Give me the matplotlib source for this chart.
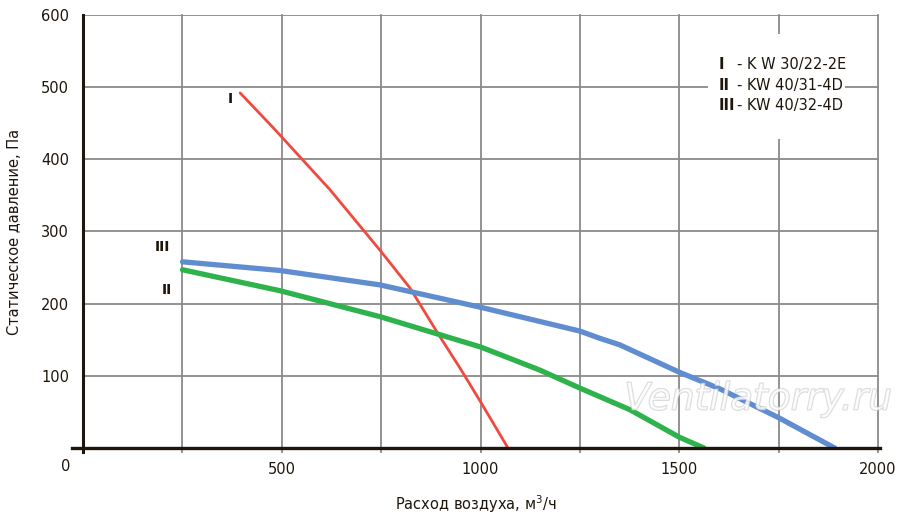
import matplotlib
matplotlib.use('Agg')
import matplotlib.pyplot as plt
import matplotlib.patheffects as pe
from matplotlib.patches import Rectangle

plt.rcParams['font.family'] = ['Liberation Sans Narrow', 'DejaVu Sans']

# curve I  - KW 30/22-2E
q1 = [395, 478, 621, 750, 822, 898, 948, 1000, 1069]
p1 = [492, 444, 358, 272, 222, 154, 111, 64, 0]
# curve II - KW 40/31-4D
q2 = [250, 495, 747, 1000, 1149, 1250, 1376, 1500, 1562]
p2 = [247, 218, 182, 140, 108, 83, 53, 15, 0]
# curve III - KW 40/32-4D
q3 = [250, 495, 747, 1000, 1250, 1300, 1350, 1500, 1602, 1750, 1891]
p3 = [258, 246, 226, 195, 162, 152, 143, 105, 82, 42, 0]

xticks = [500, 1000, 1500, 2000]
yticks = [100, 200, 300, 400, 500, 600]
legend_num = ['I', 'II', 'III']
legend_txt = ['- K W 30/22-2E', '- KW 40/31-4D', '- KW 40/32-4D']

dark = '#1e160c'
gridc = '#8c8a88'

fig = plt.figure(figsize=(9, 5.19), dpi=100)
ax = fig.add_axes([72/900, 1-448/519, 808/900, 433/519])
ax.set_xlim(-28, 2005)
ax.set_ylim(0, 600)
for s in ax.spines.values():
    s.set_visible(False)

for x in range(250, 2001, 250):
    ax.plot([x, x], [-6, 600], color=gridc, lw=1.3, zorder=1, clip_on=False)
for y in yticks:
    ax.plot([0, 2000], [y, y], color=gridc, lw=1.3, zorder=1)

# legend backdrop
ax.add_patch(Rectangle((1572, 428), 344, 146, facecolor='white', edgecolor='none', zorder=2))

ax.plot([0, 0], [-6, 600], color=dark, lw=2.2, zorder=5, clip_on=False)
ax.plot([-28, 2005], [0, 0], color=dark, lw=2.4, zorder=5, clip_on=False)

ax.plot(q1, p1, color='#f04a3e', lw=2.0, zorder=4, solid_capstyle='round')
ax.plot(q2, p2, color='#2eb24c', lw=3.8, zorder=4, solid_capstyle='round', solid_joinstyle='round')
ax.plot(q3, p3, color='#5f8dd0', lw=3.8, zorder=4, solid_capstyle='round', solid_joinstyle='round')

ax.text(370, 484, 'I', fontsize=10, fontweight='bold', ha='center', va='center', color=dark)
ax.text(199, 278, 'III', fontsize=10, fontweight='bold', ha='center', va='center', color=dark)
ax.text(211, 219, 'II', fontsize=10, fontweight='bold', ha='center', va='center', color=dark)

ys = [532, 503, 474]
for n, t, y in zip(legend_num, legend_txt, ys):
    ax.text(1600, y, n, fontsize=10.5, fontweight='bold', ha='left', va='center', color=dark, zorder=6)
    ax.text(1646, y, t, fontsize=10.5, ha='left', va='center', color=dark, zorder=6)

ax.set_xticks(xticks)
ax.set_yticks(yticks)
ax.tick_params(length=0, labelsize=10.5, colors=dark, pad=10)
ax.tick_params(axis='y', pad=2)
ax.text(-45, -26, '0', fontsize=10.5, ha='center', va='center', color=dark, clip_on=False)

ax.set_xlabel('Расход воздуха, м$^3$/ч', fontsize=10.5, color=dark, labelpad=12)
ax.set_ylabel('Статическое давление, Па', fontsize=10.5, color=dark, labelpad=14)

ax.text(2035, 67, 'Ventilatorry.ru', fontsize=27, style='italic', ha='right', va='center',
        color='white', alpha=0.6, zorder=7, clip_on=False,
        path_effects=[pe.withStroke(linewidth=1.1, foreground='#bdbdbd')])

fig.savefig('out.png', dpi=100)
